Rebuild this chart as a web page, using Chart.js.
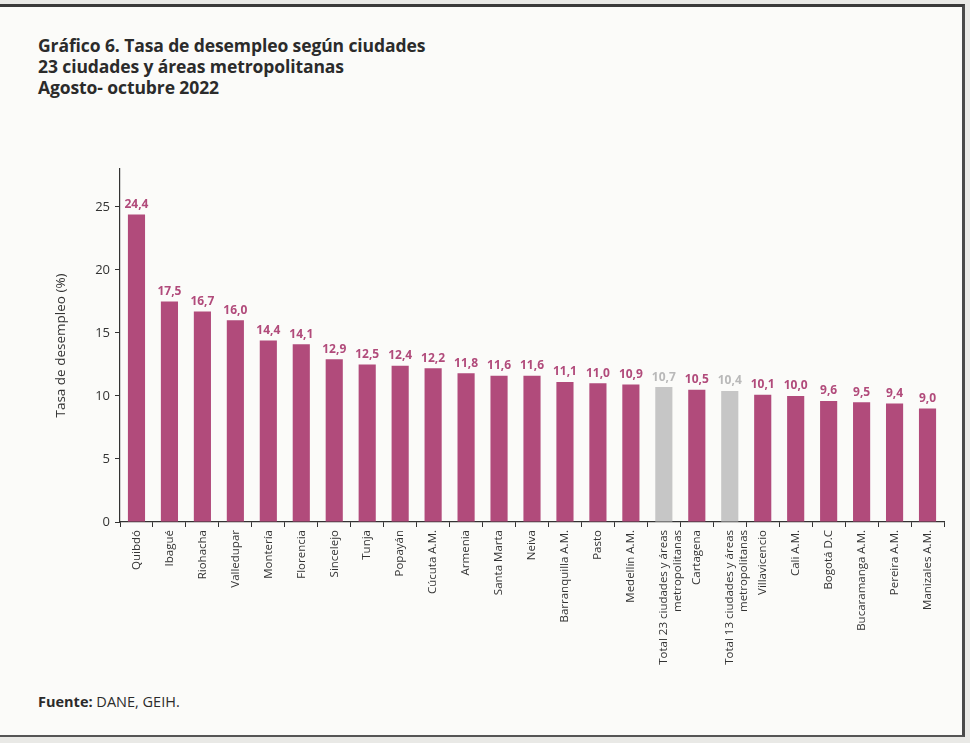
<!DOCTYPE html>
<html>
<head>
<meta charset="utf-8">
<script src="https://cdn.jsdelivr.net/npm/chart.js@4/dist/chart.umd.min.js"></script>
<style>
    body { margin: 0; background: #e9e9e6; width: 970px; height: 743px; overflow: hidden; font-family: "Open Sans", sans-serif; }
    .page { position: absolute; left: -4px; top: 4px; width: 966px; height: 728px; background: #fbfbf9;
        border-top: 3px solid #3a3a3a; border-right: 3px solid #4a4a4a; border-bottom: 2px solid #555; }
    .title { position: absolute; left: 38px; top: 35px; color: #2b2b2b; font-weight: 700; font-size: 17.5px; line-height: 21px; letter-spacing: -0.1px; }
    .source { position: absolute; left: 38px; top: 692px; color: #2b2b2b; font-size: 14.5px; }
    .source b { font-weight: 700; }
    .chart-box { position: absolute; left: 40px; top: 150px; width: 910px; height: 540px; }
</style>
</head>
<body>
<div class="page"></div>
<div class="title">Gráfico 6. Tasa de desempleo según ciudades<br>23 ciudades y áreas metropolitanas<br>Agosto- octubre 2022</div>
<div class="chart-box"><canvas id="chart1" width="910" height="540"></canvas></div>
<div class="source"><b>Fuente:</b> DANE, GEIH.</div>

<script>
// categorias y valores (%)
const cities = [
    'Quibdó', 'Ibagué', 'Riohacha', 'Valledupar', 'Montería', 'Florencia', 'Sincelejo', 'Tunja',
    'Popayán', 'Cúcuta A.M.', 'Armenia', 'Santa Marta', 'Neiva', 'Barranquilla A.M.', 'Pasto',
    'Medellín A.M.', ['Total 23 ciudades y áreas', 'metropolitanas'], 'Cartagena',
    ['Total 13 ciudades y áreas', 'metropolitanas'], 'Villavicencio', 'Cali A.M.', 'Bogotá D.C',
    'Bucaramanga A.M.', 'Pereira A.M.', 'Manizales A.M.'
];
const rates = [24.4, 17.5, 16.7, 16.0, 14.4, 14.1, 12.9, 12.5, 12.4, 12.2, 11.8, 11.6, 11.6, 11.1,
    11.0, 10.9, 10.7, 10.5, 10.4, 10.1, 10.0, 9.6, 9.5, 9.4, 9.0];
const totals = [16, 18]; // indices of the two total bars
const yTicks = [0, 5, 10, 15, 20, 25];

const pink = '#b14b7b';
const grey = '#c6c6c6';
const barColors = rates.map((v, i) => totals.includes(i) ? grey : pink);
const labelColors = rates.map((v, i) => totals.includes(i) ? '#b9b9b9' : pink);

// etiquetas encima de las barras
const valueLabels = {
    id: 'valueLabels',
    afterDatasetsDraw(chart) {
        const ctx = chart.ctx;
        const meta = chart.getDatasetMeta(0);
        ctx.save();
        ctx.font = 'bold 12px "Open Sans"';
        ctx.textAlign = 'center';
        ctx.textBaseline = 'bottom';
        meta.data.forEach((bar, i) => {
            ctx.fillStyle = labelColors[i];
            ctx.fillText(rates[i].toFixed(1).replace('.', ','), bar.x, bar.y - 4);
        });
        ctx.restore();
    }
};

var ctx = document.getElementById('chart1').getContext('2d');

var myChart = new Chart(ctx, {
    type: 'bar',
    data: {
        labels: cities,
        datasets: [{
            data: rates,
            backgroundColor: barColors,
            barPercentage: 0.52,
            categoryPercentage: 1
        }]
    },
    options: {
        responsive: false,
        animation: false,
        layout: {
            padding: { top: 19, left: 13, right: 6, bottom: 0 }
        },
        plugins: {
            legend: { display: false },
            tooltip: { enabled: false }
        },
        scales: {
            x: {
                afterFit: function (scale) { scale.height = 168; },
                border: { color: '#333', width: 1.2 },
                grid: {
                    drawOnChartArea: false,
                    color: '#333',
                    tickLength: 5
                },
                ticks: {
                    minRotation: 90,
                    maxRotation: 90,
                    autoSkip: false,
                    color: '#333',
                    font: { family: 'Open Sans', size: 11.5 }
                }
            },
            y: {
                min: 0,
                max: 28,
                afterFit: function (scale) { scale.width = 67; },
                afterBuildTicks: function (scale) {
                    scale.ticks = yTicks.map(v => ({ value: v }));
                },
                border: { color: '#333', width: 1.2 },
                grid: {
                    drawOnChartArea: false,
                    color: '#333',
                    tickLength: 5
                },
                title: {
                    display: true,
                    text: 'Tasa de desempleo (%)',
                    color: '#333',
                    padding: { top: 0, bottom: 4 },
                    font: { family: 'Open Sans', size: 13.5 }
                },
                ticks: {
                    color: '#333',
                    padding: 5,
                    font: { family: 'Open Sans', size: 13 }
                }
            }
        }
    },
    plugins: [valueLabels]
});
</script>
</body>
</html>
